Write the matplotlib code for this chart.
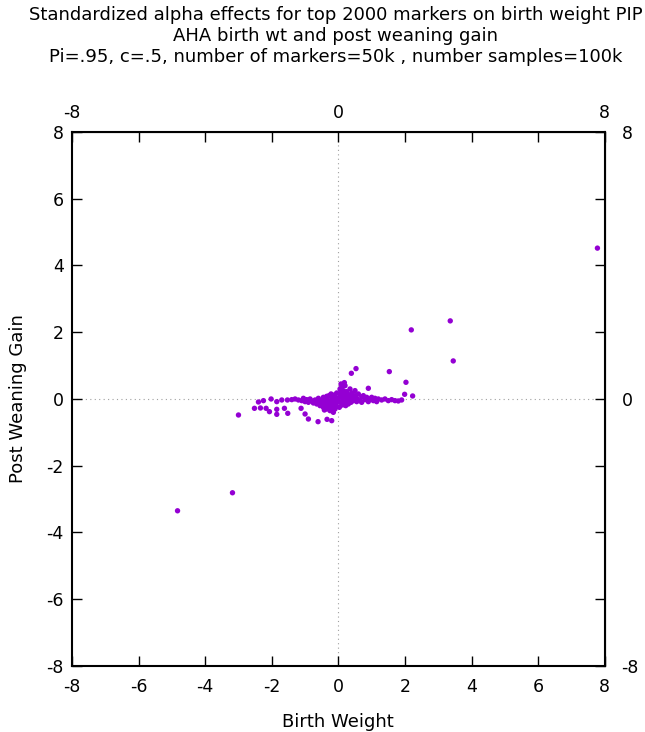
import matplotlib
import matplotlib.pyplot as plt

matplotlib.use('Agg')
plt.rcParams['axes.unicode_minus'] = False

# standardized alpha effects (birth weight, post weaning gain)
outlier_bw = [7.78, 2.19, 3.36, 3.45, -4.83, -3.18, -3.0, 1.53, 2.03, 1.99, 2.23, 0.39, 0.53, 0.90, 0.18,
              -2.52, -2.40, -2.25, -2.34, -2.17, -2.07, -2.02, -1.85, -1.85, -1.85, -1.62, -1.52, -1.70,
              -1.53, -1.12, -1.0, -0.90, -0.61, -0.34, -0.20, -0.42, -0.17]
outlier_pwg = [4.52, 2.07, 2.34, 1.14, -3.35, -2.81, -0.48, 0.82, 0.50, 0.14, 0.09, 0.77, 0.91, 0.32, 0.49,
               -0.28, -0.09, -0.05, -0.27, -0.28, -0.38, 0.0, -0.08, -0.31, -0.46, -0.28, -0.43, -0.03,
               -0.03, -0.28, -0.45, -0.60, -0.68, -0.61, -0.65, -0.33, -0.36]

cluster_bw = [-1.4, -1.3, -1.2, -1.1, -1.05, -1.0, -0.95, -0.9, -0.85, -0.8, -0.75, -0.7, -0.65, -0.6, -0.6,
              -0.55, -0.5, -0.5, -0.45, -0.45, -0.4, -0.4, -0.35, -0.35, -0.35, -0.3, -0.3, -0.28, -0.25,
              -0.25, -0.22, -0.2, -0.2, -0.18, -0.15, -0.15, -0.12, -0.12, -0.1, -0.08, -0.08, -0.05,
              -0.05, -0.03,
              0.05, 0.08, 0.1, 0.1, 0.12, 0.12, 0.15, 0.15, 0.18, 0.2, 0.2, 0.22, 0.25, 0.25, 0.28, 0.3,
              0.3, 0.35, 0.35, 0.38, 0.4, 0.42, 0.45, 0.5, 0.5, 0.55, 0.55, 0.6, 0.65, 0.7, 0.7, 0.75, 0.8,
              0.85, 0.9, 0.95, 1.0, 1.05, 1.1, 1.15, 1.2, 1.3, 1.4, 1.5, 1.6, 1.7, 1.8, 1.9, 0.02, 0.05,
              0.03, 0.08, 0.06]
cluster_pwg = [-0.02, 0.0, -0.03, -0.05, 0.02, -0.08, -0.02, -0.1, 0.0, -0.06, -0.12, -0.03, -0.15, 0.02, -0.08,
               -0.2, -0.05, -0.15, 0.05, -0.25, -0.1, -0.18, 0.08, -0.02, -0.3, -0.12, -0.22, 0.1, -0.05,
               -0.35, 0.15, -0.15, -0.28, 0.05, -0.08, -0.4, 0.12, -0.2, -0.3, 0.02, -0.12, -0.22,
               0.18, -0.05,
               0.3, 0.2, 0.35, 0.1, -0.05, -0.18, 0.25, 0.05, -0.1, 0.15, 0.4, -0.2, 0.02, 0.22, -0.08, 0.12,
               -0.15, 0.3, 0.0, -0.1, 0.18, 0.08, -0.05, 0.1, 0.25, -0.08, 0.02, 0.15, -0.05, 0.06, -0.1, 0.1, -0.02,
               0.05, -0.08, 0.0, 0.05, -0.05, 0.02, -0.08, 0.0, -0.03, 0.0, -0.05, -0.02, -0.05, -0.06, -0.03, 0.05,
               -0.1, -0.25, 0.45, 0.15]

ticks = [-8, -6, -4, -2, 0, 2, 4, 6, 8]
ends = [-8, 0, 8]
dot_color = '#9400d3'

fig = plt.figure(figsize=(6.45, 7.32), dpi=100)
ax = fig.add_axes([0.1116, 0.0902, 0.826, 0.7295])

ax.axhline(0, color='#a0a0a0', linestyle=(0, (1, 3)), linewidth=0.8, zorder=0)
ax.axvline(0, color='#a0a0a0', linestyle=(0, (1, 3)), linewidth=0.8, zorder=0)

ax.scatter(cluster_bw, cluster_pwg, s=15, color=dot_color, edgecolors='none', zorder=3)
ax.scatter(outlier_bw, outlier_pwg, s=15, color=dot_color, edgecolors='none', zorder=3)

ax.set_xlim(-8, 8)
ax.set_ylim(-8, 8)
ax.set_xticks(ticks)
ax.set_yticks(ticks)
ax.set_xticklabels([str(t) for t in ticks])
ax.set_yticklabels([str(t) for t in ticks])
ax.tick_params(direction='in', length=7, width=1, top=True, right=True, labelsize=12.5, pad=6)
ax.tick_params(axis='x', pad=9)
for s in ax.spines.values():
    s.set_linewidth(1.5)

top = ax.secondary_xaxis('top')
top.set_xticks(ends)
top.set_xticklabels([str(t) for t in ends])
top.tick_params(length=0, labelsize=12.5, pad=7)
right = ax.secondary_yaxis('right')
right.set_yticks(ends)
right.set_yticklabels([str(t) for t in ends])
right.tick_params(length=0, labelsize=12.5, pad=12)

ax.set_xlabel('Birth Weight', fontsize=13, labelpad=12)
ax.set_ylabel('Post Weaning Gain', fontsize=13, labelpad=14)

fig.text(0.52, 0.992,
         'Standardized alpha effects for top 2000 markers on birth weight PIP\n'
         'AHA birth wt and post weaning gain\n'
         'Pi=.95, c=.5, number of markers=50k , number samples=100k',
         ha='center', va='top', fontsize=13, linespacing=1.22)

plt.savefig('out.png', dpi=100)
plt.close()
